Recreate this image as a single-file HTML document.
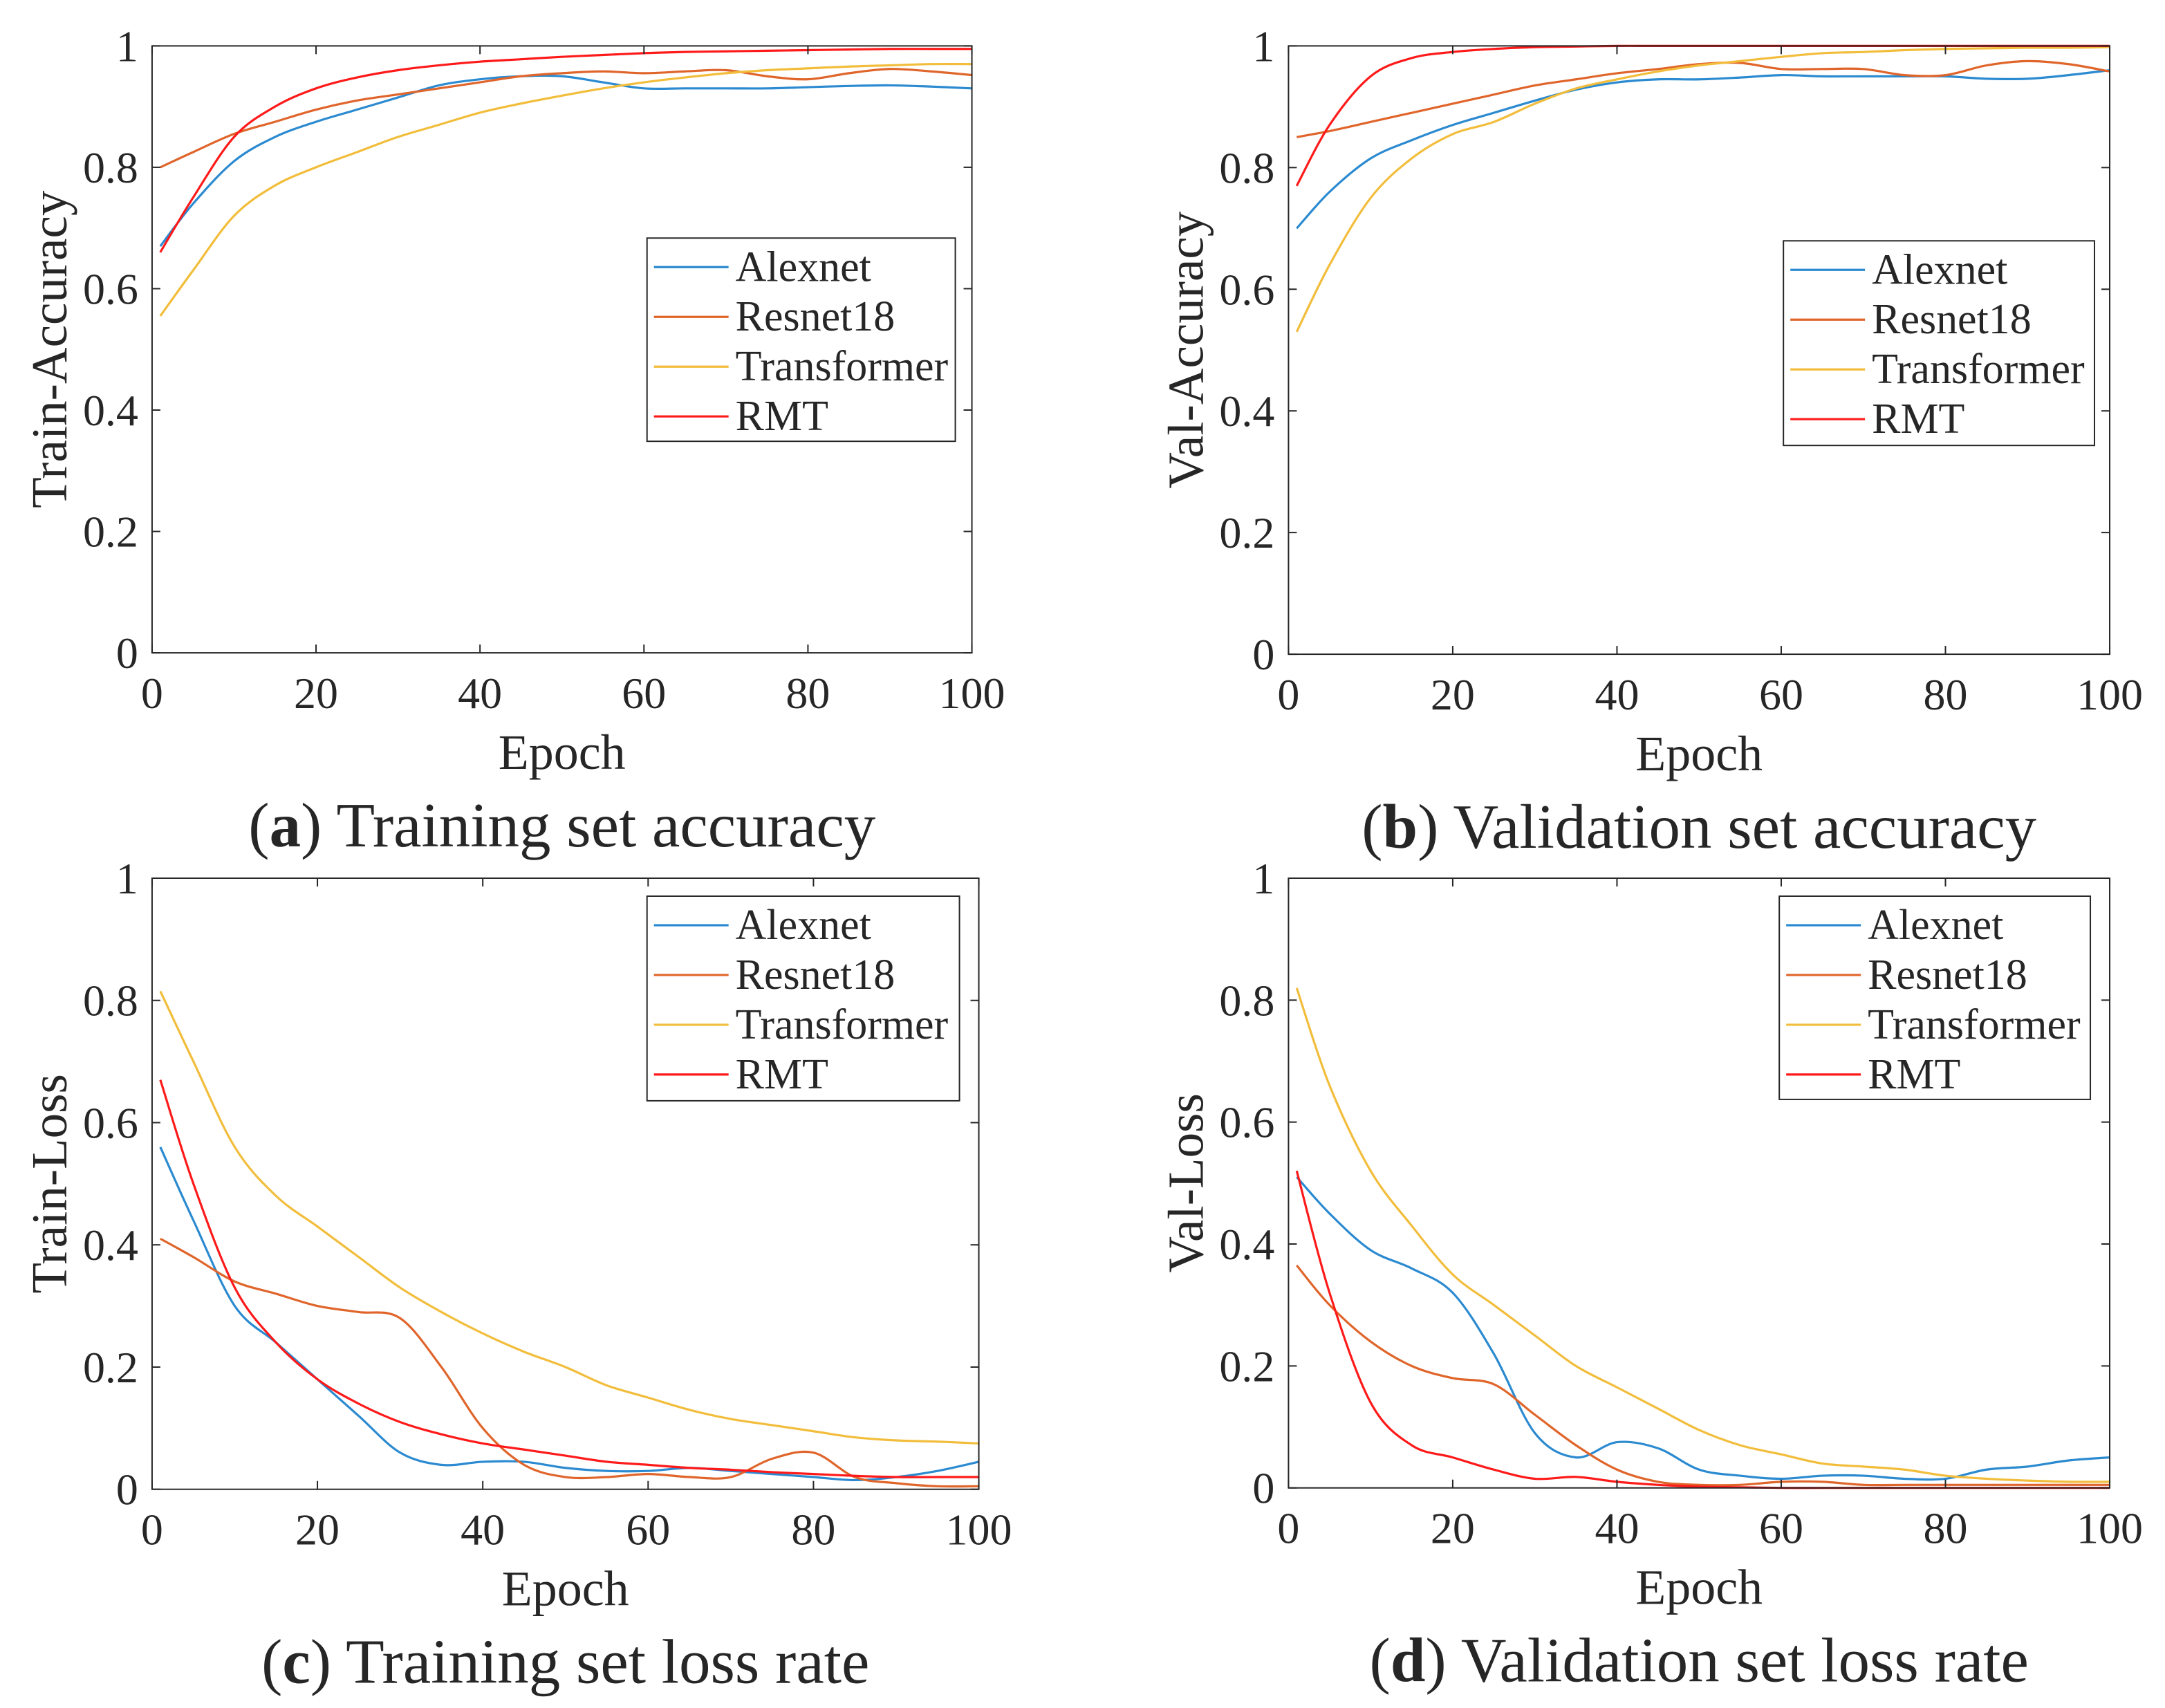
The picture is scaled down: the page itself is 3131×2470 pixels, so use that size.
<!DOCTYPE html>
<html><head><meta charset="utf-8">
<style>
html,body{margin:0;padding:0;background:#fff;}
svg{display:block;}
text{font-family:"Liberation Serif",serif;fill:#262626;}
</style></head>
<body>
<svg id="fig" width="3131" height="2470" viewBox="0 0 1566 1235" xmlns="http://www.w3.org/2000/svg"></svg>
<script>
const epochs = [1,5,10,15,20,25,30,35,40,45,50,55,60,65,70,75,80,85,90,95,100];
const seriesNames = ["Alexnet","Resnet18","Transformer","RMT"];
const colors = ["#2b8ad0","#e0652b","#f2bd3b","#ff1a1a"];
const xTicks = [0,20,40,60,80,100];
const yTicks = [0,0.2,0.4,0.6,0.8,1];
const yTickLabels = ["0","0.2","0.4","0.6","0.8","1"];

const trainAccAlex = [0.67,0.74,0.81,0.85,0.875,0.895,0.915,0.935,0.945,0.95,0.95,0.94,0.93,0.93,0.93,0.93,0.932,0.934,0.935,0.933,0.93];
const trainAccRes  = [0.80,0.825,0.855,0.875,0.895,0.91,0.92,0.93,0.94,0.95,0.955,0.958,0.955,0.958,0.96,0.95,0.945,0.955,0.962,0.958,0.952];
const trainAccTr   = [0.555,0.63,0.72,0.77,0.80,0.825,0.85,0.87,0.89,0.905,0.918,0.93,0.94,0.948,0.955,0.96,0.963,0.966,0.968,0.97,0.97];
const trainAccRMT  = [0.66,0.75,0.85,0.90,0.93,0.948,0.96,0.968,0.974,0.978,0.982,0.985,0.988,0.99,0.991,0.992,0.993,0.994,0.995,0.995,0.995];

const valAccAlex = [0.70,0.76,0.815,0.845,0.87,0.89,0.91,0.928,0.94,0.945,0.945,0.948,0.952,0.95,0.95,0.95,0.95,0.946,0.946,0.952,0.96];
const valAccRes  = [0.85,0.86,0.875,0.89,0.905,0.92,0.935,0.945,0.955,0.962,0.97,0.972,0.962,0.962,0.962,0.952,0.952,0.968,0.975,0.97,0.958];
const valAccTr   = [0.53,0.64,0.75,0.815,0.855,0.875,0.905,0.93,0.945,0.958,0.968,0.975,0.982,0.988,0.99,0.993,0.995,0.996,0.997,0.997,0.998];
const valAccRMT  = [0.77,0.87,0.95,0.98,0.99,0.995,0.998,0.999,1,1,1,1,1,1,1,1,1,1,1,1,1];

const trainLossAlex = [0.56,0.44,0.30,0.24,0.18,0.12,0.06,0.04,0.045,0.045,0.035,0.03,0.03,0.035,0.03,0.025,0.02,0.015,0.02,0.03,0.045];
const trainLossRes  = [0.41,0.38,0.34,0.32,0.30,0.29,0.28,0.20,0.10,0.04,0.02,0.02,0.025,0.02,0.02,0.05,0.06,0.02,0.01,0.005,0.005];
const trainLossTr   = [0.815,0.70,0.56,0.48,0.43,0.38,0.33,0.29,0.255,0.225,0.20,0.17,0.15,0.13,0.115,0.105,0.095,0.085,0.08,0.078,0.075];
const trainLossRMT  = [0.67,0.50,0.33,0.24,0.18,0.14,0.11,0.09,0.075,0.065,0.055,0.045,0.04,0.035,0.032,0.028,0.025,0.022,0.02,0.02,0.02];

const valLossAlex = [0.51,0.45,0.39,0.36,0.32,0.22,0.09,0.05,0.075,0.065,0.03,0.02,0.015,0.02,0.02,0.015,0.015,0.03,0.035,0.045,0.05];
const valLossRes  = [0.365,0.30,0.24,0.20,0.18,0.17,0.12,0.07,0.03,0.01,0.005,0.005,0.01,0.01,0.005,0.005,0.005,0.005,0.005,0.005,0.005];
const valLossTr   = [0.82,0.66,0.52,0.43,0.35,0.30,0.25,0.20,0.165,0.13,0.095,0.07,0.055,0.04,0.035,0.03,0.02,0.015,0.012,0.01,0.01];
const valLossRMT  = [0.52,0.32,0.14,0.07,0.05,0.03,0.015,0.018,0.01,0.005,0.002,0.001,0,0,0,0,0,0,0,0,0];

const NS="http://www.w3.org/2000/svg";
const svg=document.getElementById('fig');
function el(tag,attrs,parent){const e=document.createElementNS(NS,tag);for(const k in attrs)e.setAttribute(k,attrs[k]);(parent||svg).appendChild(e);return e;}

const panels=[
 {id:"a",x0:110,x1:703,y0:472,y1:33,ylabel:"Train-Accuracy",cap:"Training set accuracy",series:[trainAccAlex,trainAccRes,trainAccTr,trainAccRMT],leg:[468,172,223,147]},
 {id:"b",x0:932,x1:1526,y0:473,y1:33,ylabel:"Val-Accuracy",cap:"Validation set accuracy",series:[valAccAlex,valAccRes,valAccTr,valAccRMT],leg:[1290,174,225,148]},
 {id:"c",x0:110,x1:708,y0:1077,y1:635,ylabel:"Train-Loss",cap:"Training set loss rate",series:[trainLossAlex,trainLossRes,trainLossTr,trainLossRMT],leg:[468,648,226,148]},
 {id:"d",x0:932,x1:1526,y0:1076,y1:635,ylabel:"Val-Loss",cap:"Validation set loss rate",series:[valLossAlex,valLossRes,valLossTr,valLossRMT],leg:[1287,648,225,147]}
];

function smoothPath(pts){
  let d="M"+pts[0][0].toFixed(2)+","+pts[0][1].toFixed(2);
  for(let i=0;i<pts.length-1;i++){
    const p0=pts[i-1]||pts[i],p1=pts[i],p2=pts[i+1],p3=pts[i+2]||p2;
    const c1=[p1[0]+(p2[0]-p0[0])/6,p1[1]+(p2[1]-p0[1])/6];
    const c2=[p2[0]-(p3[0]-p1[0])/6,p2[1]-(p3[1]-p1[1])/6];
    d+=" C"+c1[0].toFixed(2)+","+c1[1].toFixed(2)+" "+c2[0].toFixed(2)+","+c2[1].toFixed(2)+" "+p2[0].toFixed(2)+","+p2[1].toFixed(2);
  }
  return d;
}

panels.forEach(p=>{
  const g=el('g',{});
  
  
  const X=v=>p.x0+(v/100)*(p.x1-p.x0);
  const Y=v=>p.y0+v*(p.y1-p.y0);
  p.series.forEach((s,i)=>{
    const pts=epochs.map((e,j)=>[X(e),Y(s[j])]);
    const path=el('path',{d:smoothPath(pts),fill:"none",stroke:colors[i],"stroke-width":1.6},g);
    
    
  });
  const box=el('rect',{x:p.x0,y:p.y1,width:p.x1-p.x0,height:p.y0-p.y1,fill:"none",stroke:"#262626","stroke-width":1},g);
  
  
  xTicks.forEach(t=>{
    const x=X(t);
    el('line',{x1:x,x2:x,y1:p.y0,y2:p.y0-6,stroke:"#262626"},g);
    el('line',{x1:x,x2:x,y1:p.y1,y2:p.y1+6,stroke:"#262626"},g);
    const tx=el('text',{x:x,y:p.y0+40,"text-anchor":"middle","font-size":32},g);
    tx.textContent=t;
    
    
  });
  yTicks.forEach((t,i)=>{
    const y=Y(t);
    el('line',{x1:p.x0,x2:p.x0+6,y1:y,y2:y,stroke:"#262626"},g);
    el('line',{x1:p.x1,x2:p.x1-6,y1:y,y2:y,stroke:"#262626"},g);
    const ty=el('text',{x:p.x0-10,y:y+11,"text-anchor":"end","font-size":32},g);
    ty.textContent=yTickLabels[i];
    
    
  });
  const xl=el('text',{x:(p.x0+p.x1)/2,y:p.y0+84,"text-anchor":"middle","font-size":36},g);
  xl.textContent="Epoch";
  
  
  const cy=(p.y0+p.y1)/2;
  const lx0=p.x0-62;
  const yl=el('text',{x:lx0,y:cy,"text-anchor":"middle","font-size":36.5,transform:"rotate(-90 "+lx0+" "+cy+")"},g);
  yl.textContent=p.ylabel;
  
  
  const cap=el('text',{x:(p.x0+p.x1)/2,y:p.y0+140,"text-anchor":"middle","font-size":45.5},g);
  
  
  cap.innerHTML='(<tspan font-weight="bold">'+p.id+'</tspan>) '+p.cap;
  const [lx,ly,lw,lh]=p.leg;
  const lg=el('g',{},g);
  
  
  el('rect',{x:lx,y:ly,width:lw,height:lh,fill:"#fff",stroke:"#262626","stroke-width":1},lg);
  seriesNames.forEach((n,i)=>{
    const yy=ly+21+i*36;
    const ent=el('g',{},lg);
    
    
    el('line',{x1:lx+5,x2:lx+59,y1:yy,y2:yy,stroke:colors[i],"stroke-width":1.6},ent);
    const t=el('text',{x:lx+64,y:yy+10,"font-size":31},ent);
    t.textContent=n;
  });
});
</script>
</body></html>
